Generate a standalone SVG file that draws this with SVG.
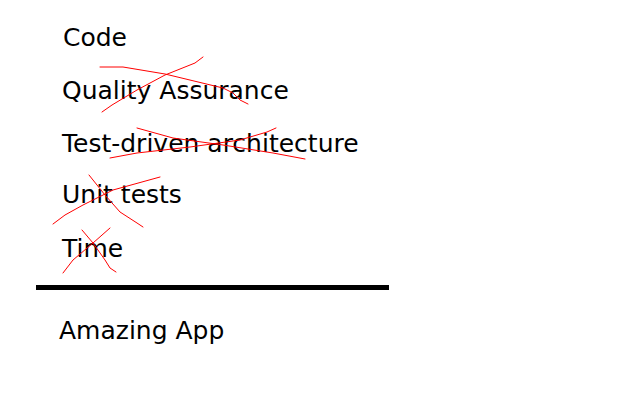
<svg xmlns="http://www.w3.org/2000/svg" width="640" height="400" viewBox="0 0 640 400">
<style>
  .t { font-family: "DejaVu Sans", "Liberation Sans", sans-serif; font-size: 25px; fill: #000; }
  .x { fill: none; stroke: #ff0000; stroke-width: 1; stroke-linejoin: round; stroke-linecap: round; }
</style>
<defs>
  <filter id="soft" filterUnits="userSpaceOnUse" x="20" y="270" width="390" height="35">
    <feGaussianBlur stdDeviation="0.7"/>
  </filter>
</defs>
<rect width="640" height="400" fill="#fff"/>
<g id="items">
  <text class="t" x="63" y="46">Code</text>
  <text class="t" x="62" y="99">Quality Assurance</text>
  <text class="t" x="62" y="152">Test-driven architecture</text>
  <text class="t" x="62" y="203">Unit tests</text>
  <text class="t" x="62" y="257">Time</text>
  <text class="t" x="59" y="339">Amazing App</text>
</g>
<g id="crossouts">
  <polyline class="x" points="100,67 123,67 165,74 223,88 233,93 240,100 248,104"/>
  <polyline class="x" points="102,112 112,105 137,90 165,75 195,63 203,57"/>
  <polyline class="x" points="137,128 173,138 223,145 273,153 305,159"/>
  <polyline class="x" points="110,158 137,153 190,147 240,140 267,132 276,128"/>
  <polyline class="x" points="89,175 105,195 120,212 137,223 143,227"/>
  <polyline class="x" points="53,224 65,215 83,205 113,190 160,177"/>
  <polyline class="x" points="82,230 93,243 105,260 110,268 116,272"/>
  <polyline class="x" points="63,273 73,260 93,243 110,228"/>
</g>
<g id="rule">
  <rect x="36" y="285" width="353" height="5" fill="#000" filter="url(#soft)"/>
</g>
</svg>
